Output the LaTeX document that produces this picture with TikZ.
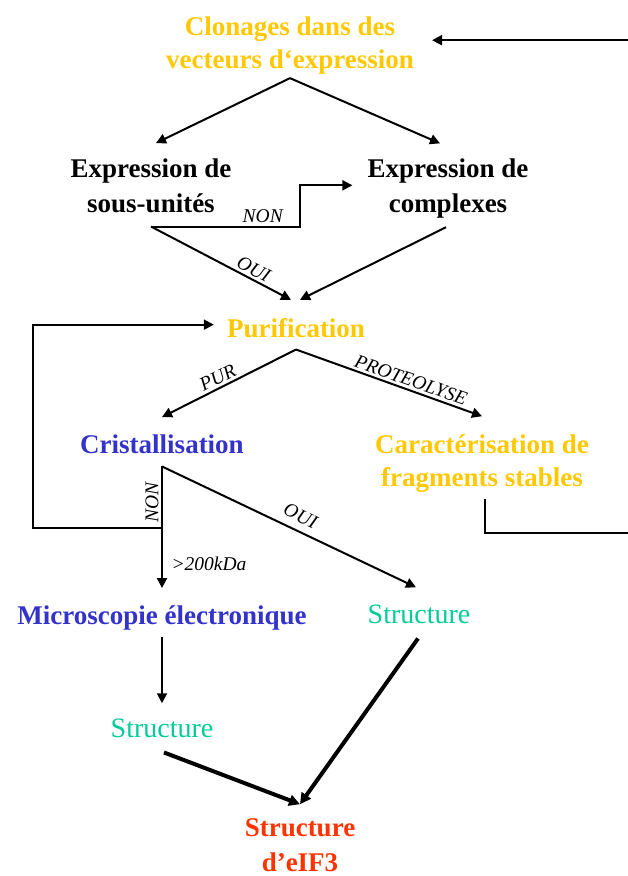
\documentclass[tikz,border=0pt]{standalone}
\usepackage{fontspec}
\setmainfont{Liberation Serif}
\usetikzlibrary{arrows.meta}
\definecolor{cyel}{RGB}{255,200,0}
\definecolor{cblue}{RGB}{51,51,204}
\definecolor{cteal}{RGB}{0,204,153}
\definecolor{cred}{RGB}{255,51,0}
\begin{document}
\begin{tikzpicture}[x=1pt,y=-1pt,
  big/.style={font=\fontsize{27}{33}\selectfont\bfseries, inner sep=3pt},
  bigb/.style={font=\fontsize{27}{35}\selectfont\bfseries, inner sep=3pt},
  reg/.style={font=\fontsize{28}{33}\selectfont, inner sep=3pt},
  lab/.style={font=\fontsize{19.5}{21}\selectfont\itshape, inner sep=2.5pt},
  arr/.style={line width=2pt, -{Triangle[length=10pt,width=10pt]}},
  thk/.style={line width=4pt, -{Triangle[length=11pt,width=11pt]}}]
\useasboundingbox (0,0) rectangle (628,876);
% nodes
\node[big, text=cyel, align=center] (clon) at (290,45.2) {Clonages dans des\\vecteurs d`expression};
\node[bigb, align=center] (expL) at (151,185.3) {Expression de\\sous-unités};
\node[bigb, align=center] (expR) at (448,188.3) {Expression de\\complexes};
\node[big, text=cyel, anchor=base] (pur) at (296,337) {Purification};
\node[big, text=cblue, anchor=base] (crist) at (162,453) {Cristallisation};
\node[big, text=cyel, align=center] (carac) at (482,463.3) {Caractérisation de\\fragments stables};
\node[big, text=cblue, anchor=base] (micro) at (162,624) {Microscopie électronique};
\node[reg, text=cteal, anchor=base] (strR) at (419,623) {Structure};
\node[reg, text=cteal, anchor=base] (strL) at (162,737) {Structure};
\node[bigb, text=cred, align=center] (final) at (300,845) {Structure\\d’eIF3};
\coordinate (cb) at ([yshift=-10pt]crist.south);
% connectors
\draw[arr] ([xshift=3pt,yshift=-4pt]carac.south) -- ++(0,34) -- ++(152,0) |- ([xshift=15pt,yshift=5pt]clon.east);
\draw[arr] ([yshift=-1pt]clon.south) -- ([xshift=5pt,yshift=12pt]expL.north);
\draw[arr] ([yshift=-1pt]clon.south) -- ([xshift=-8pt,yshift=12pt]expR.north);
\draw[arr] ([yshift=-11pt]expL.south) -- ++(149,0) node[pos=0.75, anchor=south, lab]{NON} |- ([xshift=-12pt,yshift=3pt]expR.west);
\draw[arr] ([yshift=-11pt]expL.south) -- node[pos=0.7, above, sloped, lab]{OUI} ([xshift=-5pt,yshift=15pt]pur.north);
\draw[arr] ([xshift=-2pt,yshift=-6pt]expR.south) -- ([xshift=4pt,yshift=15pt]pur.north);
\draw[arr] ([yshift=-9pt]pur.south) -- node[pos=0.55, above, sloped, lab]{PUR} ([yshift=14pt]crist.north);
\draw[arr] ([yshift=-9pt]pur.south) -- node[pos=0.6, above, sloped, lab]{PROTEOLYSE} ([yshift=15pt]carac.north);
\draw[arr] (cb) -- ++(0,62) node[pos=0.58, rotate=90, anchor=south, lab]{NON} -- ++(-129,0) |- ([xshift=-10pt,yshift=3pt]pur.west);
\draw[arr] (cb) -- node[pos=0.8, right=6pt, lab]{>200kDa} ([yshift=14pt]micro.north);
\draw[arr] (cb) -- node[pos=0.52, above=5pt, sloped, lab]{OUI} ([xshift=-3pt,yshift=14pt]strR.north);
\draw[arr] ([yshift=-4pt]micro.south) -- ([yshift=12pt]strL.north);
\draw[thk] ([xshift=2pt,yshift=-12pt]strL.south) -- ([yshift=11pt]final.north);
\draw[thk] ([xshift=-1pt,yshift=-12pt]strR.south) -- ([yshift=11pt]final.north);
\end{tikzpicture}
\end{document}
